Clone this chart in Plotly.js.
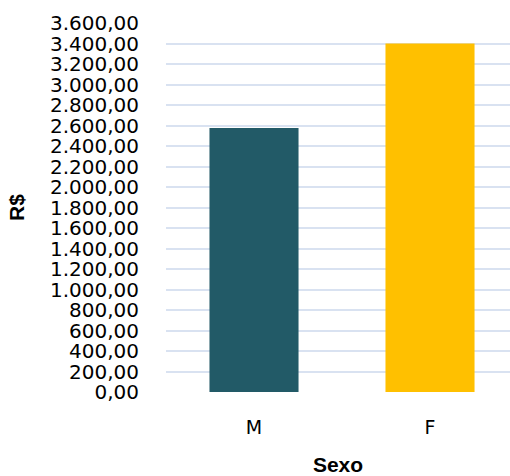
<!DOCTYPE html>
<html>
<head>
<meta charset="utf-8">
<script src="https://cdn.plot.ly/plotly-3.0.1.min.js"></script>
<style>html,body{margin:0;padding:0;background:#fff;}#chart{width:510px;height:476px;}</style>
</head>
<body>
<div id="chart"></div>
<script>
const categories = ["M", "F"];
const values = [2575, 3400];
const barColors = ["#225A67", "#FFC000"];
const tickVals = [0,200,400,600,800,1000,1200,1400,1600,1800,2000,2200,2400,2600,2800,3000,3200,3400,3600];
const tickText = tickVals.map(v => v.toLocaleString('pt-BR', {minimumFractionDigits: 2, maximumFractionDigits: 2}));
const xTitle = "Sexo";
const yTitle = "R$";

const trace = {
  type: 'bar',
  x: categories,
  y: values,
  width: 0.506,
  marker: {color: barColors},
  hoverinfo: 'none'
};

const layout = {
  width: 510, height: 476,
  margin: {l: 166, r: 0, t: 23, b: 84},
  paper_bgcolor: '#fff', plot_bgcolor: '#fff',
  showlegend: false,
  xaxis: {
    type: 'category',
    range: [-0.5, 1.4545],
    showgrid: false, zeroline: false, showline: false,
    ticks: '', ticklabelstandoff: 22,
    tickfont: {family: 'DejaVu Sans', size: 19, color: '#000'},
    title: {text: '<b>' + xTitle + '</b>', font: {family: 'Liberation Sans', size: 21, color: '#000'}, standoff: 23}
  },
  yaxis: {
    range: [0, 3600],
    tickvals: tickVals, ticktext: tickText,
    showgrid: true, gridcolor: '#D9E2F1', gridwidth: 2,
    zeroline: false, showline: false, ticks: '',
    ticklabelstandoff: 26,
    tickfont: {family: 'DejaVu Sans', size: 20, color: '#000'},
    title: {text: '<b>' + yTitle + '</b>', font: {family: 'Liberation Sans', size: 21, color: '#000'}, standoff: 19}
  }
};

Plotly.newPlot('chart', [trace], layout, {staticPlot: true});
</script>
</body>
</html>
